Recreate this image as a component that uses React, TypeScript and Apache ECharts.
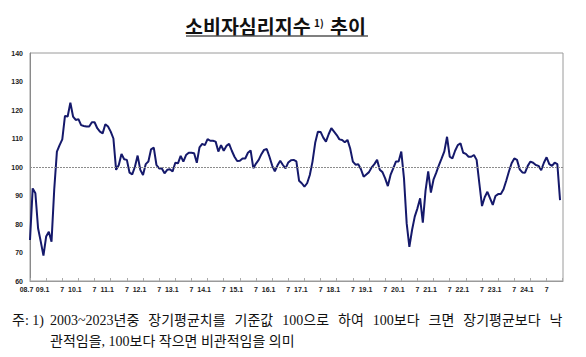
import React, { useEffect, useRef } from "react";
import * as echarts from "echarts";

const START_YEAR = 2008;
const START_MONTH = 7;

const v2008 = [74.4, 92.5, 90.8, 78.5, 73.8, 68.9];
const v2009 = [75.6, 77.3, 73.8, 92, 105.4, 107.7, 109.7, 117.9, 117.7, 122.6, 117.7, 116.5];
const v2010 = [116.8, 114.7, 114.4, 114.2, 114.2, 115.7, 115.7, 113.6, 112.4, 111.8, 115, 114.2];
const v2011 = [112.4, 110, 99, 100.7, 104.6, 102.7, 102.5, 98, 97.4, 100.1, 104, 99];
const v2012 = [97.2, 101, 101.9, 106.2, 106.8, 100.7, 99.5, 99.5, 97.8, 99, 99.2, 98.4];
const v2013 = [101.5, 101.3, 103.9, 101.9, 104.2, 105, 105, 104.8, 101.5, 106.9, 108.1, 107.7];
const v2014 = [109.8, 109.2, 109.2, 108.9, 105.4, 107.7, 105.7, 107.4, 108.1, 105.7, 103.6, 102.1];
const v2015 = [102.2, 103, 103, 105, 105.8, 99.6, 101.2, 102.5, 104.5, 106, 106.3, 103.6];
const v2016 = [100.5, 98.5, 100.6, 102.2, 100.7, 99.5, 101.6, 102.4, 102.5, 102, 95.2, 94.3];
const v2017 = [93.1, 94.3, 97.2, 101.9, 108.5, 112.4, 112.3, 110.3, 108.9, 111.5, 113.6, 112.4];
const v2018 = [111.2, 109.7, 109.5, 108.7, 109.5, 106.5, 101.9, 100.8, 101, 99.2, 96.6, 97.4];
const v2019 = [98.2, 99.9, 101, 102.5, 99, 98.2, 96, 93.3, 97.2, 99.5, 101.9, 101.9];
const v2020 = [105.4, 96, 80.2, 72, 77.9, 82.6, 85.5, 89, 80.5, 91.6, 98.5, 91];
const v2021 = [95.7, 98, 100.7, 103, 105.5, 110.6, 103.6, 103, 105.7, 107.7, 108.3, 105];
const v2022 = [104.6, 103.6, 103.6, 104.2, 102.5, 94.3, 86.3, 89.4, 91.3, 89, 86.7, 89.8];
const v2023 = [90.5, 90.5, 92.2, 95.2, 98.4, 101.3, 103, 102.5, 99.2, 98.1, 98, 100.4];
const v2024 = [101.9, 101.5, 100.7, 100.4, 98.9, 101.5, 103.4, 101, 100.4, 101.5, 101, 88.4];

const values: number[] = [
  ...v2008, ...v2009, ...v2010, ...v2011, ...v2012, ...v2013, ...v2014, ...v2015,
  ...v2016, ...v2017, ...v2018, ...v2019, ...v2020, ...v2021, ...v2022, ...v2023, ...v2024,
];

const Y_MIN = 60;
const Y_MAX = 140;
const Y_STEP = 10;
const BASELINE = 100;

const TITLE_MAIN = "소비자심리지수";
const TITLE_SUP = "1)";
const TITLE_TAIL = "추이";
const NOTE_HEAD = "주: 1)";
const NOTE_LINE1_WORDS = ["2003~2023년중", "장기평균치를", "기준값", "100으로", "하여", "100보다", "크면", "장기평균보다", "낙"];
const NOTE_LINE2 = "관적임을, 100보다 작으면 비관적임을 의미";

function monthLabel(i: number): string {
  const idx = START_MONTH - 1 + i;
  const m = (idx % 12) + 1;
  const y = START_YEAR + Math.floor(idx / 12);
  const yy = String(y % 100).padStart(2, "0");
  if (i === 0) return `{j|${yy}.${m}}`;
  if (m === 1) return `{j|${yy}.1}`;
  if (m === 7) return "7";
  return "";
}

export default function App() {
  const ref = useRef<HTMLDivElement>(null);
  useEffect(() => {
    if (!ref.current) return;
    const chart = echarts.init(ref.current, null, { renderer: "svg" });
    const seriesData = values.map((v, i) => [i, v]);
    const labelFont = "Liberation Sans, Arial, sans-serif";
    const noteFont = "Liberation Serif, Noto Sans CJK KR, serif";
    const titleFont = "Noto Sans CJK KR, sans-serif";
    const line1Rich = NOTE_LINE1_WORDS.map((w) => `{w|${w}}`).join("{s| }");
    chart.setOption({
      animation: false,
      backgroundColor: "#ffffff",
      grid: {
        left: 30,
        right: 23,
        top: 53,
        bottom: 76,
        containLabel: false,
        outerBoundsMode: "none",
        show: true,
        borderColor: "#9a9a9a",
        borderWidth: 1,
      },
      xAxis: {
        type: "value",
        min: 0,
        max: values.length + 0.1,
        interval: 6,
        splitLine: { show: false },
        axisLine: { show: true, lineStyle: { color: "#9a9a9a", width: 1 } },
        axisTick: { show: true, inside: true, length: 3, lineStyle: { color: "#aaaaaa" } },
        axisLabel: {
          show: true,
          margin: 5,
          fontSize: 7,
          fontWeight: "bold",
          fontFamily: labelFont,
          color: "#222",
          showMaxLabel: false,
          formatter: (val: number) => {
            const i = Math.round(val);
            if (i < 0 || i >= values.length) return "";
            return monthLabel(i);
          },
          rich: {
            j: { fontSize: 7, fontWeight: "bold", fontFamily: labelFont, color: "#222", padding: [0, 7, 0, 0] },
          },
        },
      },
      yAxis: {
        type: "value",
        min: Y_MIN,
        max: Y_MAX,
        interval: Y_STEP,
        splitLine: { show: false },
        axisLine: { show: true, lineStyle: { color: "#8a8a8a", width: 1 } },
        axisTick: { show: false },
        axisLabel: {
          margin: 7,
          fontSize: 7,
          fontWeight: "bold",
          fontFamily: labelFont,
          color: "#222",
        },
      },
      series: [
        {
          type: "line",
          data: seriesData,
          showSymbol: false,
          symbol: "none",
          lineStyle: { color: "#15196b", width: 2 },
          markLine: {
            silent: true,
            symbol: ["none", "none"],
            label: { show: false },
            lineStyle: { color: "#8c8c8c", width: 1, type: [2, 1] },
            data: [{ yAxis: BASELINE }],
          },
        },
      ],
      graphic: [
        {
          type: "text",
          x: 185,
          y: 25,
          style: {
            text: TITLE_MAIN,
            fontSize: 19.5,
            fontWeight: "bold",
            fontFamily: titleFont,
            fill: "#111",
            align: "left",
            verticalAlign: "middle",
          },
        },
        {
          type: "text",
          x: 314,
          y: 22,
          style: {
            text: TITLE_SUP,
            fontSize: 10,
            fontWeight: "bold",
            fontFamily: titleFont,
            fill: "#111",
            align: "left",
            verticalAlign: "middle",
          },
        },
        {
          type: "text",
          x: 330,
          y: 25,
          style: {
            text: TITLE_TAIL,
            fontSize: 19.5,
            fontWeight: "bold",
            fontFamily: titleFont,
            fill: "#111",
            align: "left",
            verticalAlign: "middle",
          },
        },
        {
          type: "line",
          shape: { x1: 186, y1: 36, x2: 368, y2: 36 },
          style: { stroke: "#555", lineWidth: 1.5 },
        },
        {
          type: "text",
          x: 12,
          y: 320,
          style: {
            text: NOTE_HEAD,
            fontSize: 14,
            fontFamily: noteFont,
            fill: "#111",
            align: "left",
            verticalAlign: "middle",
          },
        },
        {
          type: "text",
          x: 50,
          y: 320,
          style: {
            text: line1Rich,
            fontSize: 14,
            fontFamily: noteFont,
            fill: "#111",
            align: "left",
            verticalAlign: "middle",
            rich: {
              w: { fontSize: 14, fontFamily: noteFont, fill: "#111" },
              s: { fontSize: 14, fontFamily: noteFont, fill: "#111", width: 9 },
            },
          },
        },
        {
          type: "text",
          x: 50,
          y: 341,
          style: {
            text: NOTE_LINE2,
            fontSize: 14,
            fontFamily: noteFont,
            fill: "#111",
            align: "left",
            verticalAlign: "middle",
          },
        },
      ],
    });
    return () => chart.dispose();
  }, []);
  return (
    <div
      ref={ref}
      style={{ position: "fixed", left: 0, top: 0, width: 586, height: 357, background: "#fff" }}
    />
  );
}
